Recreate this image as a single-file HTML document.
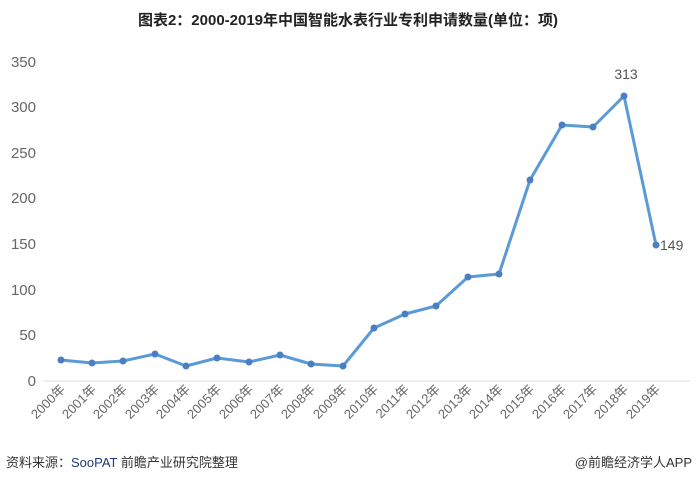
<!DOCTYPE html>
<html><head><meta charset="utf-8"><style>
body{margin:0;width:697px;height:483px;background:#fff;overflow:hidden;font-family:"Liberation Sans","Noto Sans CJK SC",sans-serif}
</style></head><body>
<svg width="697" height="483" xmlns="http://www.w3.org/2000/svg" font-family="Liberation Sans, Noto Sans CJK SC, sans-serif">
<text x="348" y="25" text-anchor="middle" font-size="15" font-weight="bold" fill="#222">图表2：2000-2019年中国智能水表行业专利申请数量(单位：项)</text>
<g fill="#666" font-size="15" text-anchor="end">
<text x="36" y="386">0</text><text x="36" y="340">50</text><text x="36" y="295">100</text>
<text x="36" y="249">150</text><text x="36" y="203">200</text><text x="36" y="158">250</text>
<text x="36" y="112">300</text><text x="36" y="67">350</text>
</g>
<line x1="44" y1="381" x2="690" y2="381" stroke="#ddd" stroke-width="1"/>
<polyline fill="none" stroke="#5b9bd5" stroke-width="3" stroke-linejoin="round" points="61,360 92,363 123,361 155,354 186,366 217,358 249,362 280,355 311,364 343,366 374,328 405,314 436,306 468,277 499,274 530,180 562,125 593,127 624,96 656,245"/>
<g fill="#4a7fc4">
<circle cx="61" cy="360" r="3.5"/><circle cx="92" cy="363" r="3.5"/><circle cx="123" cy="361" r="3.5"/><circle cx="155" cy="354" r="3.5"/><circle cx="186" cy="366" r="3.5"/><circle cx="217" cy="358" r="3.5"/><circle cx="249" cy="362" r="3.5"/><circle cx="280" cy="355" r="3.5"/><circle cx="311" cy="364" r="3.5"/><circle cx="343" cy="366" r="3.5"/><circle cx="374" cy="328" r="3.5"/><circle cx="405" cy="314" r="3.5"/><circle cx="436" cy="306" r="3.5"/><circle cx="468" cy="277" r="3.5"/><circle cx="499" cy="274" r="3.5"/><circle cx="530" cy="180" r="3.5"/><circle cx="562" cy="125" r="3.5"/><circle cx="593" cy="127" r="3.5"/><circle cx="624" cy="96" r="3.5"/><circle cx="656" cy="245" r="3.5"/>
</g>
<text x="626" y="79" text-anchor="middle" font-size="14" fill="#555">313</text>
<text x="660" y="250" font-size="14" fill="#555">149</text>
<g fill="#666" font-size="13" text-anchor="end">
<text transform="translate(66,390) rotate(-45)">2000年</text>
<text transform="translate(97,390) rotate(-45)">2001年</text>
<text transform="translate(128,390) rotate(-45)">2002年</text>
<text transform="translate(160,390) rotate(-45)">2003年</text>
<text transform="translate(191,390) rotate(-45)">2004年</text>
<text transform="translate(222,390) rotate(-45)">2005年</text>
<text transform="translate(254,390) rotate(-45)">2006年</text>
<text transform="translate(285,390) rotate(-45)">2007年</text>
<text transform="translate(316,390) rotate(-45)">2008年</text>
<text transform="translate(348,390) rotate(-45)">2009年</text>
<text transform="translate(379,390) rotate(-45)">2010年</text>
<text transform="translate(410,390) rotate(-45)">2011年</text>
<text transform="translate(441,390) rotate(-45)">2012年</text>
<text transform="translate(473,390) rotate(-45)">2013年</text>
<text transform="translate(504,390) rotate(-45)">2014年</text>
<text transform="translate(535,390) rotate(-45)">2015年</text>
<text transform="translate(567,390) rotate(-45)">2016年</text>
<text transform="translate(598,390) rotate(-45)">2017年</text>
<text transform="translate(629,390) rotate(-45)">2018年</text>
<text transform="translate(661,390) rotate(-45)">2019年</text>
</g>
<text x="6" y="467" font-size="13" fill="#333">资料来源：<tspan fill="#1f3a7a">SooPAT</tspan> 前瞻产业研究院整理</text>
<text x="692" y="467" font-size="13" fill="#333" text-anchor="end">@前瞻经济学人APP</text>
</svg>
</body></html>
